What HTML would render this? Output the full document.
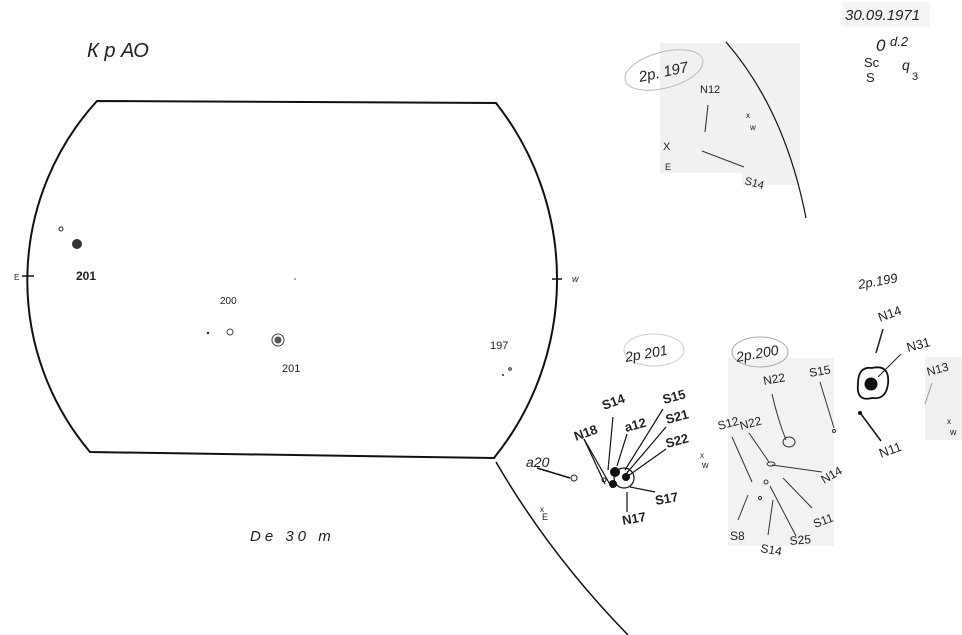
<!DOCTYPE html>
<html><head><meta charset="utf-8"><style>
html,body{margin:0;padding:0;background:#fff}
svg{display:block}
text{font-family:"Liberation Sans",sans-serif;fill:#222}
</style></head><body>
<svg width="962" height="635" viewBox="0 0 962 635" xmlns="http://www.w3.org/2000/svg">
<rect width="962" height="635" fill="#fff"/>
<rect x="660" y="43" width="140" height="130" fill="#f1f1f1"/>
<rect x="742" y="173" width="58" height="12" fill="#f1f1f1"/>
<rect x="728" y="358" width="106" height="188" fill="#f2f2f2"/>
<rect x="925" y="357" width="37" height="83" fill="#f0f0f0"/>
<rect x="842" y="2" width="88" height="25" fill="#f5f5f5"/>

<g fill="none" stroke="#111" stroke-width="2">
<path d="M97,101 L496,103 A285,285 0 0 1 494,458 L90,452 A266,266 0 0 1 97,101 Z"/>
</g>
<line x1="22" y1="276" x2="34" y2="276" stroke="#111" stroke-width="1.5"/>
<line x1="552" y1="279" x2="562" y2="279" stroke="#111" stroke-width="1.5"/>
<text x="14" y="280" font-size="8">E</text>
<text x="572" y="282" font-size="9" font-style="italic">w</text>
<path d="M496,462 Q550,555 628,635" fill="none" stroke="#111" stroke-width="1.5"/>
<path d="M726,42 Q785,110 806,218" fill="none" stroke="#111" stroke-width="1.2"/>

<text x="87" y="57" font-size="20" font-style="italic" fill="#333">К р АО</text>
<text x="845" y="20" font-size="15" font-style="italic" fill="#333">30.09.1971</text>
<text x="876" y="51" font-size="17" font-style="italic" fill="#333">0</text>
<text x="890" y="46" font-size="13" font-style="italic" fill="#333">d.2</text>
<text x="864" y="67" font-size="13" fill="#333">Sc</text>
<text x="902" y="70" font-size="14" font-style="italic" fill="#333">q</text>
<text x="912" y="80" font-size="11" fill="#333">3</text>
<text x="866" y="82" font-size="13" fill="#333">S</text>
<text x="250" y="541" font-size="15" font-style="italic" fill="#333" letter-spacing="4">De 30 m</text>

<circle cx="61" cy="229" r="2" fill="none" stroke="#222"/>
<circle cx="77" cy="244" r="5" fill="#333"/>
<text x="76" y="280" font-size="12" font-weight="bold">201</text>
<text x="220" y="304" font-size="10">200</text>
<circle cx="208" cy="333" r="1.2" fill="#222"/>
<circle cx="230" cy="332" r="3" fill="none" stroke="#444"/>
<circle cx="278" cy="340" r="6" fill="none" stroke="#444"/>
<circle cx="278" cy="340" r="3.5" fill="#555"/>
<text x="282" y="372" font-size="11">201</text>
<text x="490" y="349" font-size="11">197</text>
<circle cx="510" cy="369" r="1.3" fill="none" stroke="#222"/>
<circle cx="503" cy="375" r="1" fill="#222"/>
<circle cx="295" cy="279" r="0.8" fill="#444"/>

<ellipse cx="664" cy="70" rx="40" ry="18" fill="none" stroke="#bbb" transform="rotate(-15 664 70)"/>
<text x="640" y="82" font-size="15" font-style="italic" fill="#333" transform="rotate(-12 640 82)">2p. 197</text>
<text x="700" y="93" font-size="11" fill="#333">N12</text>
<line x1="708" y1="105" x2="705" y2="132" stroke="#222"/>
<line x1="702" y1="151" x2="744" y2="167" stroke="#333"/>
<text x="744" y="184" font-size="11" fill="#333" transform="rotate(15 744 184)">S14</text>
<text x="663" y="150" font-size="11" fill="#333">X</text>
<text x="665" y="170" font-size="9" fill="#333">E</text>
<text x="746" y="118" font-size="8" fill="#333">x</text>
<text x="750" y="130" font-size="8" fill="#333">w</text>

<ellipse cx="654" cy="350" rx="30" ry="16" fill="none" stroke="#ccc"/>
<text x="626" y="362" font-size="14" font-style="italic" fill="#333" transform="rotate(-10 626 362)">2p 201</text>
<text x="526" y="467" font-size="14" font-style="italic" fill="#222">a20</text>
<path d="M537,468 L570,478" stroke="#111" stroke-width="1.5"/>
<circle cx="574" cy="478" r="3" fill="none" stroke="#222"/>
<text x="540" y="512" font-size="8" fill="#222">x</text>
<text x="542" y="520" font-size="9" fill="#222">E</text>
<g stroke="#111" stroke-width="1.2" fill="none">
<line x1="584" y1="439" x2="605" y2="484"/>
<line x1="584" y1="439" x2="612" y2="488"/>
<line x1="613" y1="417" x2="608" y2="470"/>
<line x1="627" y1="434" x2="617" y2="466"/>
<line x1="663" y1="409" x2="625" y2="470"/>
<line x1="666" y1="427" x2="626" y2="474"/>
<line x1="666" y1="449" x2="628" y2="476"/>
<line x1="630" y1="487" x2="655" y2="492"/>
<line x1="627" y1="492" x2="627" y2="512"/>
<ellipse cx="624" cy="478" rx="10" ry="10"/>
</g>
<circle cx="615" cy="472" r="5" fill="#111"/>
<circle cx="613" cy="484" r="4" fill="#111"/>
<circle cx="626" cy="477" r="4" fill="#111"/>
<circle cx="604" cy="480" r="2" fill="none" stroke="#222"/>
<g font-size="13" font-weight="bold" fill="#111">
<text x="576" y="441" transform="rotate(-20 576 441)">N18</text>
<text x="604" y="410" transform="rotate(-20 604 410)">S14</text>
<text x="626" y="432" transform="rotate(-15 626 432)">a12</text>
<text x="664" y="404" transform="rotate(-15 664 404)">S15</text>
<text x="667" y="424" transform="rotate(-15 667 424)">S21</text>
<text x="667" y="448" transform="rotate(-15 667 448)">S22</text>
<text x="656" y="505" transform="rotate(-10 656 505)">S17</text>
<text x="623" y="525" transform="rotate(-10 623 525)">N17</text>
</g>
<text x="700" y="458" font-size="8" fill="#222">x</text>
<text x="702" y="468" font-size="9" fill="#222">w</text>

<ellipse cx="760" cy="352" rx="28" ry="15" fill="none" stroke="#aaa"/>
<text x="737" y="362" font-size="14" font-style="italic" fill="#333" transform="rotate(-10 737 362)">2p.200</text>
<g font-size="12" fill="#222">
<text x="764" y="385" transform="rotate(-10 764 385)">N22</text>
<text x="810" y="377" transform="rotate(-10 810 377)">S15</text>
<text x="719" y="430" transform="rotate(-15 719 430)">S12</text>
<text x="741" y="430" transform="rotate(-15 741 430)">N22</text>
<text x="824" y="484" transform="rotate(-30 824 484)">N14</text>
<text x="815" y="528" transform="rotate(-20 815 528)">S11</text>
<text x="730" y="540">S8</text>
<text x="760" y="552" transform="rotate(10 760 552)">S14</text>
<text x="790" y="545" transform="rotate(-5 790 545)">S25</text>
</g>
<g stroke="#333" stroke-width="1" fill="none">
<path d="M772,394 Q778,420 786,440"/>
<ellipse cx="789" cy="442" rx="6" ry="5"/>
<line x1="820" y1="382" x2="834" y2="428"/>
<circle cx="834" cy="431" r="1.5"/>
<line x1="732" y1="437" x2="752" y2="482"/>
<line x1="749" y1="433" x2="769" y2="462"/>
<ellipse cx="771" cy="464" rx="4" ry="2"/>
<line x1="772" y1="465" x2="822" y2="472"/>
<circle cx="766" cy="482" r="2"/>
<line x1="770" y1="486" x2="796" y2="536"/>
<line x1="783" y1="478" x2="812" y2="508"/>
<line x1="748" y1="495" x2="738" y2="520"/>
<circle cx="760" cy="498" r="1.5"/>
<line x1="773" y1="500" x2="768" y2="535"/>
</g>

<text x="859" y="289" font-size="13" font-style="italic" fill="#333" transform="rotate(-10 859 289)">2p.199</text>
<text x="880" y="322" font-size="13" fill="#222" transform="rotate(-20 880 322)">N14</text>
<line x1="883" y1="329" x2="876" y2="353" stroke="#222" stroke-width="1.5"/>
<text x="908" y="352" font-size="13" fill="#222" transform="rotate(-15 908 352)">N31</text>
<line x1="901" y1="354" x2="878" y2="377" stroke="#222"/>
<path d="M858,384 Q858,366 872,368 Q890,364 888,384 Q886,400 872,398 Q856,402 858,384 Z" fill="none" stroke="#111" stroke-width="1.8"/>
<circle cx="871" cy="384" r="6.5" fill="#111"/>
<circle cx="860" cy="413" r="2" fill="#111"/>
<line x1="861" y1="414" x2="881" y2="441" stroke="#111" stroke-width="1.5"/>
<text x="881" y="458" font-size="13" fill="#222" transform="rotate(-20 881 458)">N11</text>
<text x="928" y="376" font-size="12" fill="#222" transform="rotate(-15 928 376)">N13</text>
<line x1="932" y1="383" x2="925" y2="404" stroke="#999"/>
<text x="947" y="424" font-size="8" fill="#222">x</text>
<text x="950" y="435" font-size="9" fill="#222">w</text>
</svg>
</body></html>
